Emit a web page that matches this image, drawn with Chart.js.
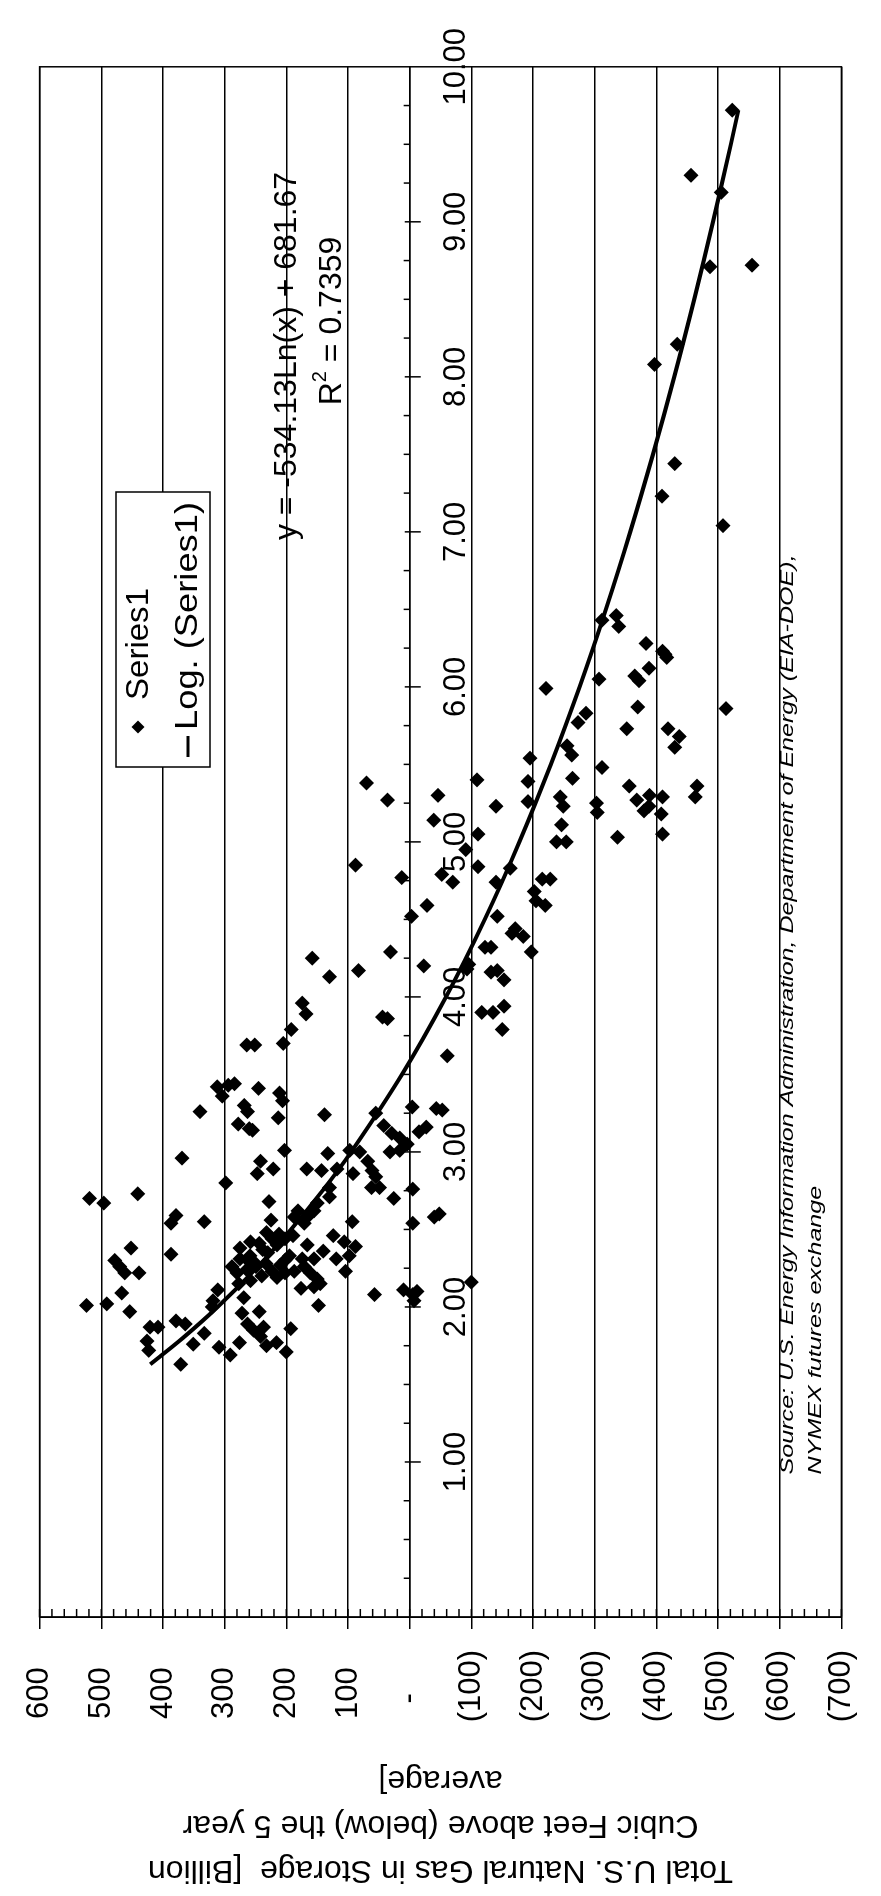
<!DOCTYPE html>
<html lang="en">
<head>
<meta charset="UTF-8">
<title>Natural Gas Storage vs Price</title>
<script src="https://cdn.jsdelivr.net/npm/chart.js"></script>
<style>
  html, body { margin: 0; padding: 0; background: #fff; }
  body { width: 881px; height: 1896px; overflow: hidden; position: relative; }
  /* the chart is drawn landscape and turned a quarter turn, like the scanned page */
  #wrap {
    position: absolute; left: 0; top: 0;
    width: 1896px; height: 881px;
    transform-origin: 0 0;
    transform: translate(0, 1896px) rotate(-90deg);
  }
  canvas { display: block; }
</style>
</head>
<body>
<div id="wrap"><canvas id="gasChart" width="1896" height="881"></canvas></div>
<script>
// Henry Hub price ($) vs storage above/below the 5 year average (Bcf)
const priceVals = [
  3.62, 3.42, 3.36, 3.43, 3.44, 3.41, 3.38, 3.33, 3.30, 3.26, 3.18, 3.15, 3.14, 3.26, 3.22, 3.24, 3.25,
  3.29, 3.28, 3.27, 3.17, 3.12, 3.09, 3.05, 3.13, 3.16, 3.00, 3.01, 3.01, 2.96, 2.94, 2.86, 2.89, 2.89,
  2.88, 2.99, 2.89, 3.01, 3.00, 2.86, 2.94, 2.88, 2.84, 2.70, 2.67, 2.73, 2.59, 2.54, 2.55, 2.34, 2.38,
  2.30, 2.26, 2.22, 2.22, 1.97, 2.09, 2.01, 2.02, 2.00, 2.10, 2.04, 2.16, 2.58, 2.60, 1.89, 1.85, 1.87,
  1.81, 1.87, 1.87, 1.78, 1.72, 1.91, 1.89, 1.76, 1.83, 1.74, 1.69, 1.63, 1.77, 1.75, 1.77, 1.71, 1.86,
  2.80, 2.68, 2.56, 2.77, 2.71, 2.67, 2.62, 2.58, 2.54, 2.62, 2.58, 2.77, 2.77, 2.70, 2.76, 2.54, 2.55,
  2.46, 2.42, 2.39, 2.33, 2.40, 2.36, 2.31, 2.31, 2.30, 2.31, 2.23, 2.08, 2.11, 2.08, 2.46, 2.44, 2.47,
  2.44, 2.41, 2.37, 2.33, 2.38, 2.31, 2.26, 2.22, 2.24, 2.26, 2.28, 2.23, 2.19, 2.22, 2.23, 2.26, 2.22,
  2.18, 2.15, 2.13, 2.01, 2.12, 2.15, 2.06, 2.11, 2.04, 1.96, 1.97, 2.35, 2.28, 2.40, 2.33, 2.27, 2.20,
  2.17, 2.30, 2.42, 2.48,
  5.38, 5.27, 5.30, 5.14, 5.40, 5.23, 5.39, 5.26, 5.29, 5.23, 5.11, 5.00, 5.00, 5.41, 5.05, 4.95, 4.84,
  4.79, 4.74, 4.77, 4.85, 4.74, 4.83, 4.76, 4.76, 4.68, 4.62, 4.59, 4.59, 4.52, 4.52, 4.41, 4.44, 4.39,
  4.29, 4.29, 4.32, 4.32, 4.21, 4.18, 4.20, 4.25, 4.13, 4.17, 4.16, 4.17, 4.11, 3.94, 3.96, 3.89, 3.87,
  3.86, 3.90, 3.90, 3.79, 3.79, 3.70, 3.69, 3.69,
  5.25, 5.19, 5.03, 5.36, 5.27, 5.30, 5.20, 5.23, 5.29, 5.18, 5.05, 5.36, 5.29,
  7.44, 7.23, 7.04, 6.43, 6.46, 6.39, 6.28, 6.23, 6.21, 6.19, 6.05, 6.07, 6.04, 6.12, 5.99, 5.87, 5.86,
  5.83, 5.77, 5.73, 5.73, 5.68, 5.61, 5.62, 5.56, 5.54, 5.48,
  9.72, 9.30, 9.19, 8.71, 8.72, 8.21, 8.08
];
const storageVals = [
  -61, 312, 304, 294, 284, 245, 211, 206, 268, 263, 278, 260, 255, 340, 213, 138, 55,
  -4, -43, -53, 42, 29, 16, 4, -15, -27, 32, 16, 203, 369, 242, 247, 221, 167,
  143, 133, 118, 97, 81, 92, 68, 61, 55, 519, 496, 441, 379, 387, 333, 387, 452,
  478, 470, 462, 439, 454, 467, 524, 491, 320, -12, -7, -100, -40, -48, 263, 253, 237,
  242, 421, 408, 426, 423, 379, 364, 351, 333, 309, 291, 371, 276, 232, 216, 200, 193,
  298, 228, 225, 130, 130, 150, 155, 166, 171, 181, 187, 62, 49, 26, -5, -5, 93,
  124, 106, 88, 98, 166, 140, 155, 174, 202, 119, 104, 57, 10, -5, 189, 202, 212,
  223, 244, 238, 259, 275, 275, 288, 280, 264, 249, 233, 223, 215, 202, 187, 171, 161,
  150, 145, 155, 148, 176, 277, 269, 311, 319, 272, 244, 230, 250, 215, 195, 210, 240,
  258, 262, 258, 232,
  70, 36, -46, -39, -109, -140, -192, -192, -244, -249, -246, -238, -254, -264, -111, -91, -111,
  -52, -70, 13, 88, -140, -163, -215, -228, -202, -205, -220, -28, -3, -142, -166, -171, -184,
  -197, 31, -122, -132, -96, -93, -23, 158, 130, 83, -132, -142, -153, -153, 174, 168, 44,
  36, -117, -135, -150, 192, 205, 264, 251,
  -303, -304, -337, -356, -368, -389, -380, -388, -410, -408, -410, -466, -463,
  -430, -409, -508, -312, -335, -339, -383, -410, -414, -417, -307, -365, -372, -388, -221, -370, -513,
  -286, -273, -352, -419, -437, -430, -255, -263, -195, -312,
  -523, -456, -505, -487, -555, -434, -397
];

// logarithmic trend line as drawn: y = -534.13 Ln(x) + 681.67
const trendPrice = [1.63, 1.8, 2.0, 2.25, 2.5, 2.75, 3.0, 3.5, 4.0, 4.5, 5.0, 5.5, 6.0, 6.5, 7.0, 7.5, 8.0, 8.5, 9.0, 9.5, 9.72];
const trendStorage = [420.7, 367.7, 311.4, 248.5, 192.3, 141.3, 94.9, 12.5, -58.8, -121.7, -178.0, -228.9, -275.4, -318.1, -357.7, -394.5, -429.0, -461.4, -491.9, -520.8, -533.0];

const priceTicks = [1, 2, 3, 4, 5, 6, 7, 8, 9, 10];
const priceTickLabels = ['1.00', '2.00', '3.00', '4.00', '5.00', '6.00', '7.00', '8.00', '9.00', '10.00'];
const storageTicks = [600, 500, 400, 300, 200, 100, 0, -100, -200, -300, -400, -500, -600, -700];
const storageTickLabels = ['600', '500', '400', '300', '200', '100', '-', '(100)', '(200)', '(300)', '(400)', '(500)', '(600)', '(700)'];

const seriesLabels = ['Series1', 'Log. (Series1)'];
const axisTitle = ['Total U.S. Natural Gas in Storage  [Billion', 'Cubic Feet above (below) the 5 year', 'average]'];
const sourceLines = ['Source: U.S. Energy Information Administration, Department of Energy (EIA-DOE),', 'NYMEX futures exchange'];
const equationText = 'y = -534.13Ln(x) + 681.67';
const rSquared = '0.7359';

const FONT = "'Liberation Sans', Arial, sans-serif";

const points = priceVals.map((p, i) => ({ x: p, y: storageVals[i] }));
const trend = trendPrice.map((p, i) => ({ x: p, y: trendStorage[i] }));

// draws text squeezed/stretched to a given width
function fitText(ctx, text, x, y, width) {
  const w = ctx.measureText(text).width;
  ctx.save();
  ctx.translate(x, y);
  ctx.scale(width / w, 1);
  ctx.fillText(text, 0, 0);
  ctx.restore();
}

function line(ctx, x1, y1, x2, y2) {
  ctx.beginPath();
  ctx.moveTo(x1, y1);
  ctx.lineTo(x2, y2);
  ctx.stroke();
}

const extras = {
  id: 'extras',
  afterDraw(chart) {
    const { ctx, chartArea: a, scales: { x, y } } = chart;
    ctx.save();
    ctx.strokeStyle = '#000';
    ctx.fillStyle = '#000';
    ctx.lineWidth = 1.5;

    // plot frame
    ctx.strokeRect(a.left, a.top, a.right - a.left, a.bottom - a.top);

    // minor ticks on the storage axis (every 20)
    for (let s = -700; s <= 600; s += 20) {
      const py = y.getPixelForValue(s);
      line(ctx, a.left, py, a.left + 8, py);
    }

    // ticks on the price axis line at zero storage
    const y0 = y.getPixelForValue(0);
    for (let q = 1; q < 40; q++) {
      const px = x.getPixelForValue(q / 4);
      if (q % 4 === 0) line(ctx, px, y0 - 5, px, y0 + 11);
      else line(ctx, px, y0 - 6, px, y0);
    }

    // trend line equation
    ctx.textBaseline = 'middle';
    ctx.textAlign = 'center';
    ctx.font = '32px ' + FONT;
    ctx.fillText(equationText, 1540, 287);
    const rest = ' = ' + rSquared;
    const wR = ctx.measureText('R').width;
    const wRest = ctx.measureText(rest).width;
    ctx.font = '20px ' + FONT;
    const w2 = ctx.measureText('2').width;
    const total = wR + w2 + wRest;
    const cx = 1575 - total / 2;
    ctx.textAlign = 'left';
    ctx.font = '32px ' + FONT;
    ctx.fillText('R', cx, 332);
    ctx.font = '20px ' + FONT;
    ctx.fillText('2', cx + wR, 320);
    ctx.font = '32px ' + FONT;
    ctx.fillText(rest, cx + wR + w2, 332);

    // legend box
    const bx = 1129, by = 116, bw = 275, bh = 94;
    ctx.fillStyle = '#fff';
    ctx.fillRect(bx, by, bw, bh);
    ctx.strokeRect(bx, by, bw, bh);
    ctx.fillStyle = '#000';
    const r = 6.5;
    ctx.beginPath();
    ctx.moveTo(1169, 138 - r); ctx.lineTo(1169 + r, 138);
    ctx.lineTo(1169, 138 + r); ctx.lineTo(1169 - r, 138);
    ctx.closePath(); ctx.fill();
    ctx.lineWidth = 3;
    line(ctx, 1139, 188, 1160, 188);
    ctx.font = '32px ' + FONT;
    fitText(ctx, seriesLabels[0], 1196, 139, 112);
    fitText(ctx, seriesLabels[1], 1166, 188, 228);

    // source note
    ctx.font = 'italic 19px ' + FONT;
    const sx = 920 / ctx.measureText(sourceLines[0]).width;
    const left = x.getPixelForValue(0.92);
    sourceLines.forEach((t, i) => {
      fitText(ctx, t, left, a.bottom - 54 + i * 28, ctx.measureText(t).width * sx);
    });
    ctx.restore();
  }
};

new Chart(document.getElementById('gasChart'), {
  type: 'scatter',
  data: {
    datasets: [
      {
        label: seriesLabels[0],
        data: points,
        pointStyle: 'rectRot',
        pointRadius: 7.5,
        backgroundColor: '#000',
        borderWidth: 0,
        order: 1
      },
      {
        label: seriesLabels[1],
        data: trend,
        showLine: true,
        borderColor: '#000',
        borderWidth: 4,
        pointRadius: 0,
        tension: 0.4,
        fill: false,
        order: 0
      }
    ]
  },
  options: {
    responsive: false,
    animation: false,
    devicePixelRatio: 1,
    layout: { padding: { left: 0, top: 24, right: 47, bottom: 19 } },
    plugins: {
      legend: { display: false },
      tooltip: { enabled: false }
    },
    scales: {
      x: {
        type: 'linear',
        min: 0,
        max: 10,
        position: { y: 0 },
        afterFit: (s) => { s.height = 0; },
        grid: { display: false, drawTicks: false },
        border: { display: true, color: '#000', width: 1.5 },
        ticks: {
          stepSize: 1,
          autoSkip: false,
          maxRotation: 0,
          padding: 28,
          color: '#000',
          font: { family: FONT, size: 31 },
          callback: (v) => {
            const i = priceTicks.indexOf(v);
            return i < 0 ? '' : priceTickLabels[i];
          }
        }
      },
      y: {
        type: 'linear',
        min: -700,
        max: 600,
        afterFit: (s) => { s.width = 279; },
        grid: { color: '#000', lineWidth: 1.5, drawTicks: true, tickLength: 12, tickColor: '#000', tickWidth: 1.5 },
        border: { display: true, color: '#000', width: 1.5 },
        ticks: {
          stepSize: 100,
          padding: 21,
          color: '#000',
          font: { family: FONT, size: 31 },
          callback: (v) => {
            const i = storageTicks.indexOf(v);
            if (i < 0) return '';
            const t = storageTickLabels[i];
            if (v > 0) return t + '  ';
            if (v === 0) return t + '     ';
            return t;
          }
        },
        title: {
          display: true,
          text: axisTitle,
          color: '#000',
          font: { family: FONT, size: 32, lineHeight: 1.4 },
          padding: { top: 4, bottom: 0 }
        }
      }
    }
  },
  plugins: [extras]
});
</script>
</body>
</html>
